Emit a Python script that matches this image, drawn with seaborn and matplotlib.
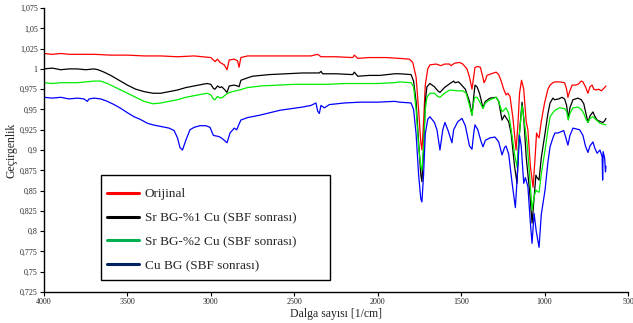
import pandas as pd
import matplotlib.pyplot as plt
import seaborn as sns
from matplotlib.lines import Line2D
from matplotlib.patches import Rectangle
from matplotlib.ticker import FuncFormatter

# DALGA SAYISI / GECIRGENLIK DEGERLERI
red_x = [4000, 3950, 3900, 3850, 3800, 3700, 3600, 3500, 3400, 3300, 3200, 3100, 3050, 3000,
         2975, 2960, 2945, 2920, 2903, 2890, 2860, 2840, 2831, 2820, 2780, 2700, 2600, 2500,
         2400, 2360, 2340, 2250, 2150, 2140, 2120, 2050, 1950, 1870, 1810, 1790, 1770, 1755,
         1742, 1735, 1725, 1715, 1700, 1687, 1650, 1620, 1600, 1570, 1560, 1540, 1510, 1490,
         1465, 1450, 1435, 1425, 1417, 1400, 1385, 1370, 1363, 1355, 1345, 1320, 1290, 1275,
         1260, 1245, 1231, 1220, 1207, 1190, 1171, 1160, 1150, 1138, 1125, 1110, 1100, 1085,
         1069, 1057, 1048, 1040, 1033, 1020, 1000, 980, 967, 950, 938, 910, 880, 868, 860, 850,
         835, 815, 800, 780, 770, 755, 740, 728, 715, 705, 690, 675, 660, 645, 632]
red_y = [1.019, 1.018, 1.019, 1.018, 1.018, 1.018, 1.017, 1.017, 1.016, 1.016, 1.015, 1.016, 1.015, 1.014,
         1.009, 1.012, 1.008, 1.005, 0.999, 1.011, 1.012, 1.010, 1.002, 1.014, 1.016, 1.016, 1.016, 1.016,
         1.016, 1.018, 1.015, 1.015, 1.014, 1.017, 1.013, 1.014, 1.014, 1.013, 1.012, 1.008, 0.990, 0.950,
         0.910, 0.900, 0.935, 0.980, 1.000, 1.005, 1.006, 1.004, 1.006, 1.006, 1.004, 1.007, 1.008, 1.006,
         1.000, 0.990, 0.975, 0.990, 1.002, 1.003, 1.002, 0.990, 0.983, 0.986, 0.992, 0.994, 0.996, 0.993,
         0.985, 0.975, 0.968, 0.970, 0.966, 0.940, 0.900, 0.930, 0.970, 0.986, 0.975, 0.935, 0.925, 0.880,
         0.854, 0.890, 0.921, 0.917, 0.915, 0.935, 0.958, 0.975, 0.980, 0.983, 0.984, 0.984, 0.983, 0.975, 0.965, 0.972,
         0.980, 0.980, 0.981, 0.985, 0.984, 0.978, 0.970, 0.978, 0.980, 0.975, 0.974, 0.975, 0.973, 0.976, 0.979]

black_x = [4000, 3950, 3900, 3850, 3800, 3750, 3700, 3676, 3640, 3600, 3550, 3500, 3450, 3400, 3347,
           3300, 3250, 3200, 3150, 3100, 3050, 3023, 3000, 2985, 2975, 2960, 2945, 2935, 2920, 2903,
           2890, 2860, 2840, 2831, 2820, 2780, 2750, 2650, 2550, 2450, 2350, 2340, 2330, 2250, 2150,
           2140, 2120, 2050, 1986, 1900, 1867, 1800, 1785, 1770, 1755, 1742, 1735, 1725, 1715, 1705,
           1687, 1660, 1640, 1627, 1600, 1567, 1545, 1537, 1515, 1497, 1475, 1450, 1435, 1425, 1417,
           1405, 1390, 1369, 1355, 1327, 1290, 1275, 1255, 1240, 1231, 1215, 1200, 1180, 1165, 1155,
           1135, 1125, 1110, 1090, 1075, 1065, 1052, 1045, 1033, 1020, 997, 980, 967, 950, 940, 915,
           896, 880, 868, 858, 848, 830, 800, 780, 765, 752, 740, 728, 710, 700, 685, 665, 650, 640, 632]
black_y = [1.000, 1.001, 0.999, 1.000, 1.000, 0.999, 1.000, 0.999, 0.996, 0.992, 0.986, 0.980, 0.975, 0.972, 0.970,
           0.970, 0.972, 0.974, 0.977, 0.979, 0.981, 0.982, 0.981, 0.976, 0.975, 0.979, 0.977, 0.978, 0.975, 0.971,
           0.979, 0.980, 0.979, 0.978, 0.986, 0.989, 0.991, 0.993, 0.994, 0.995, 0.995, 0.997, 0.994, 0.994, 0.993,
           0.996, 0.991, 0.992, 0.992, 0.994, 0.994, 0.993, 0.985, 0.960, 0.910, 0.870, 0.861, 0.900, 0.960, 0.978,
           0.982, 0.978, 0.973, 0.971, 0.977, 0.982, 0.985, 0.983, 0.984, 0.980, 0.975, 0.960, 0.943, 0.965, 0.980,
           0.978, 0.970, 0.952, 0.960, 0.964, 0.965, 0.960, 0.937, 0.943, 0.940, 0.935, 0.920, 0.880, 0.859, 0.910,
           0.959, 0.940, 0.891, 0.850, 0.810, 0.835, 0.869, 0.866, 0.863, 0.890, 0.921, 0.945, 0.958, 0.964, 0.962, 0.963,
           0.965, 0.963, 0.955, 0.939, 0.952, 0.962, 0.964, 0.962, 0.957, 0.945, 0.934, 0.942, 0.947, 0.942, 0.937, 0.935, 0.934, 0.936, 0.939]

green_x = [4000, 3950, 3900, 3850, 3800, 3750, 3700, 3660, 3620, 3580, 3520, 3450, 3400, 3347, 3300,
           3250, 3200, 3150, 3100, 3023, 3000, 2985, 2975, 2960, 2945, 2930, 2900, 2870, 2830, 2780,
           2700, 2600, 2500, 2400, 2300, 2200, 2100, 2000, 1900, 1867, 1800, 1785, 1770, 1755, 1742,
           1735, 1725, 1715, 1705, 1687, 1660, 1640, 1627, 1600, 1567, 1520, 1490, 1470, 1450, 1435,
           1425, 1419, 1405, 1390, 1369, 1355, 1327, 1290, 1275, 1255, 1240, 1231, 1215, 1200, 1180,
           1165, 1155, 1135, 1125, 1105, 1090, 1075, 1065, 1052, 1045, 1033, 1020, 997, 980, 967, 950,
           938, 910, 880, 868, 858, 848, 830, 800, 780, 765, 752, 740, 728, 710, 690, 668, 650, 632]
green_y = [0.983, 0.982, 0.983, 0.983, 0.983, 0.984, 0.985, 0.985, 0.982, 0.978, 0.972, 0.965, 0.960, 0.957, 0.958,
           0.960, 0.962, 0.965, 0.967, 0.970, 0.968, 0.963, 0.962, 0.966, 0.964, 0.965, 0.970, 0.972, 0.974, 0.977,
           0.979, 0.980, 0.981, 0.981, 0.981, 0.982, 0.982, 0.982, 0.983, 0.984, 0.983, 0.978, 0.950, 0.905, 0.880,
           0.875, 0.905, 0.950, 0.965, 0.970, 0.970, 0.966, 0.965, 0.970, 0.974, 0.973, 0.973, 0.970, 0.955, 0.943,
           0.958, 0.965, 0.965, 0.960, 0.951, 0.958, 0.962, 0.965, 0.960, 0.947, 0.950, 0.952, 0.945, 0.925, 0.895,
           0.879, 0.910, 0.955, 0.940, 0.909, 0.870, 0.826, 0.840, 0.851, 0.849, 0.848, 0.870, 0.900, 0.925, 0.941, 0.946,
           0.949, 0.952, 0.951, 0.948, 0.937, 0.945, 0.952, 0.953, 0.950, 0.945, 0.938, 0.934, 0.939, 0.941, 0.937, 0.933, 0.932, 0.931]

blue_x = [4000, 3950, 3900, 3850, 3800, 3760, 3740, 3730, 3700, 3660, 3620, 3580, 3545, 3500, 3460,
          3425, 3380, 3347, 3300, 3250, 3220, 3200, 3185, 3170, 3150, 3125, 3100, 3065, 3030, 3005,
          2985, 2960, 2945, 2925, 2903, 2885, 2860, 2845, 2835, 2820, 2780, 2706, 2586, 2450, 2400,
          2370, 2360, 2350, 2340, 2320, 2290, 2200, 2106, 2000, 1900, 1867, 1800, 1785, 1770, 1755,
          1742, 1735, 1725, 1715, 1700, 1687, 1660, 1645, 1627, 1610, 1597, 1580, 1555, 1545, 1520,
          1495, 1475, 1450, 1435, 1425, 1417, 1400, 1380, 1369, 1355, 1327, 1297, 1275, 1255, 1240,
          1231, 1215, 1195, 1175, 1160, 1150, 1140, 1125, 1115, 1100, 1085, 1075, 1063, 1050, 1033,
          1020, 997, 980, 967, 950, 938, 920, 908, 885, 878, 868, 860, 848, 830, 810, 790, 770, 755,
          740, 728, 710, 700, 685, 668, 655, 652, 649, 640, 635, 632]
blue_y = [0.965, 0.964, 0.965, 0.963, 0.964, 0.963, 0.960, 0.963, 0.964, 0.963, 0.960, 0.956, 0.952, 0.946, 0.941,
          0.938, 0.933, 0.931, 0.929, 0.927, 0.924, 0.915, 0.903, 0.900, 0.912, 0.925, 0.928, 0.930, 0.930, 0.928,
          0.918, 0.917, 0.916, 0.913, 0.909, 0.921, 0.927, 0.925, 0.930, 0.937, 0.940, 0.943, 0.949, 0.953, 0.955,
          0.958, 0.948, 0.945, 0.955, 0.952, 0.956, 0.958, 0.959, 0.959, 0.960, 0.959, 0.958, 0.950, 0.920, 0.870,
          0.840, 0.836, 0.870, 0.920, 0.938, 0.941, 0.934, 0.925, 0.900, 0.925, 0.934, 0.925, 0.909, 0.925, 0.935,
          0.939, 0.930, 0.905, 0.901, 0.920, 0.931, 0.925, 0.910, 0.904, 0.912, 0.915, 0.916, 0.910, 0.894, 0.903,
          0.905, 0.895, 0.860, 0.829, 0.880, 0.918, 0.905, 0.859, 0.866, 0.855, 0.810, 0.785, 0.822, 0.800, 0.780,
          0.820, 0.851, 0.885, 0.904, 0.915, 0.921, 0.921, 0.922, 0.924, 0.919, 0.912, 0.906, 0.918, 0.927, 0.926, 0.925, 0.918, 0.905,
          0.897, 0.905, 0.910, 0.903, 0.896, 0.900, 0.892, 0.863, 0.898, 0.890, 0.873, 0.880]

labels = ["Orijinal", "Sr BG-%1 Cu (SBF sonrası)", "Sr BG-%2 Cu (SBF sonrası)", "Cu BG (SBF sonrası)"]
line_colors = ["#ff0000", "#000000", "#00ee00", "#0000ff"]
legend_colors = ["#ff0000", "#000000", "#00b050", "#002060"]

y_ticks = [0.725, 0.75, 0.775, 0.8, 0.825, 0.85, 0.875, 0.9, 0.925, 0.95, 0.975, 1.0, 1.025, 1.05, 1.075]
x_ticks = [4000, 3500, 3000, 2500, 2000, 1500, 1000, 500]

series = [(red_x, red_y), (black_x, black_y), (green_x, green_y), (blue_x, blue_y)]

sns.set_theme(style="white")
plt.rcParams["font.family"] = ["Liberation Serif", "DejaVu Serif"]

fig = plt.figure(figsize=(6.33, 3.23), dpi=100)
ax = fig.add_axes([0.0695, 0.096, 0.9226, 0.879])

for (xs, ys), lab, col in zip(series, labels, line_colors):
    df = pd.DataFrame({"x": xs, "y": ys})
    sns.lineplot(data=df, x="x", y="y", ax=ax, color=col, linewidth=0.9,
                 sort=False, estimator=None)

ax.set_xlim(4000, 500)
ax.set_ylim(0.725, 1.075)
ax.set_xticks(x_ticks)
ax.set_yticks(y_ticks)
ax.yaxis.set_major_formatter(FuncFormatter(lambda v, p: f"{v:g}".replace(".", ",")))
ax.tick_params(axis="both", labelsize=5.8, length=3, width=0.8, color="black",
               left=True, bottom=True, pad=1.5)
for s in ["top", "right"]:
    ax.spines[s].set_visible(False)
for s in ["left", "bottom"]:
    ax.spines[s].set_color("black")
    ax.spines[s].set_linewidth(1.0)

ax.set_xlabel("Dalga sayısı [1/cm]", fontsize=8.5, labelpad=1)
ax.set_ylabel("Geçirgenlik", fontsize=8.5)
ax.yaxis.set_label_coords(-0.045, 0.5)

# legend kutusu ayri ciziliyor
ax.add_patch(Rectangle((0.098, 0.042), 0.392, 0.370, transform=ax.transAxes,
                       facecolor="white", edgecolor="black", linewidth=1.0, zorder=4))
handles = [Line2D([0], [0], color=c, linewidth=2.2) for c in legend_colors]
leg = ax.legend(handles, labels, loc="upper left", bbox_to_anchor=(0.108, 0.366),
                fontsize=9.5, frameon=False, handlelength=2.4, handletextpad=0.45,
                labelspacing=0.88, borderpad=0, borderaxespad=0)
leg.set_zorder(5)

fig.savefig("out.png", dpi=100)
